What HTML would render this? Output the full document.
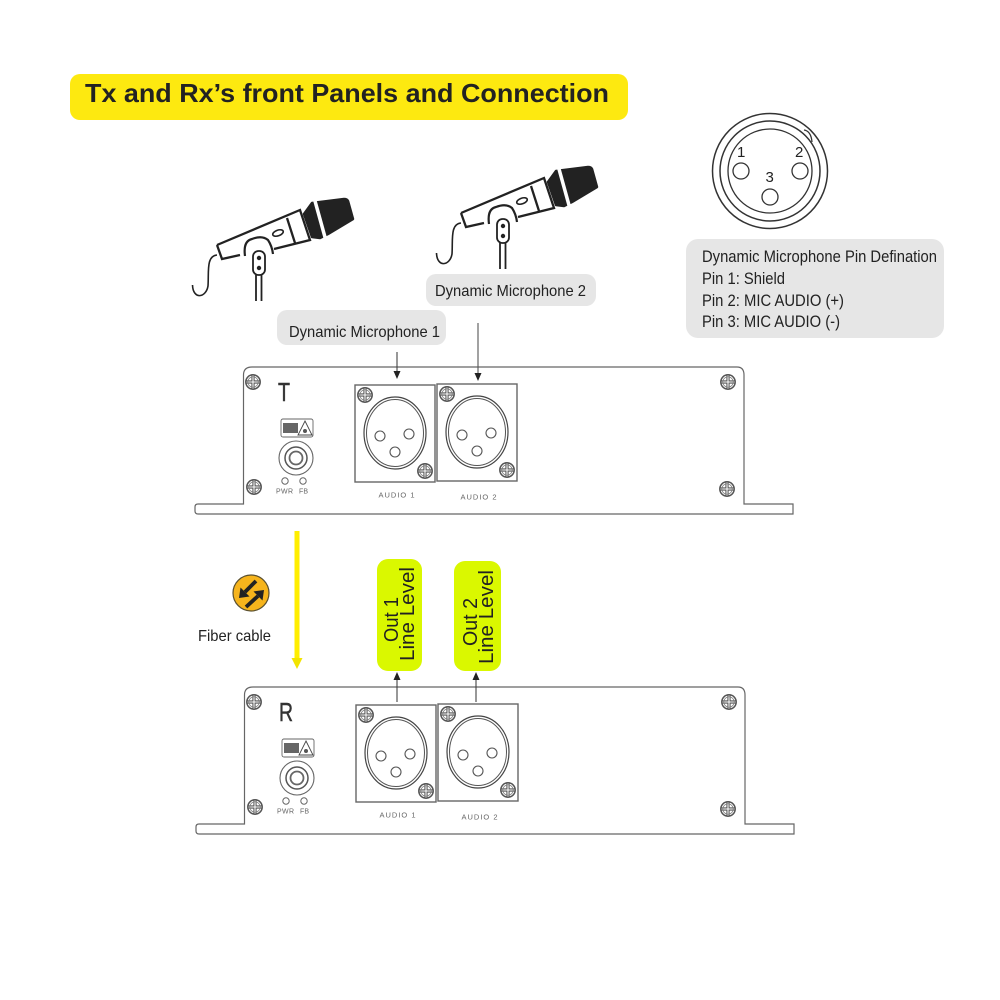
<!DOCTYPE html>
<html><head><meta charset="utf-8"><style>
html,body{margin:0;padding:0;background:#fff}
svg{display:block}
text{font-family:"Liberation Sans",sans-serif}
</style></head><body>
<svg xmlns="http://www.w3.org/2000/svg" width="1000" height="1000" viewBox="0 0 1000 1000">
<defs>
<g id="screw"><circle r="7.200" fill="#fff" stroke="#555" stroke-width="1.500"/><path d="M-6.500 0H6.500M0 -6.500V6.500" stroke="#555" stroke-width="3.200"/><path d="M-6.500 0H6.500M0 -6.500V6.500" stroke="#fff" stroke-width="1.100"/><circle r="5.200" fill="none" stroke="#777" stroke-width=".7"/></g>
<g id="xlr">
<rect x="0" y="0" width="80" height="97" fill="#fff" stroke="#666" stroke-width="1.400"/>
<use href="#screw" x="10" y="10"/><use href="#screw" x="70" y="86"/>
<ellipse cx="40" cy="48" rx="31" ry="36" fill="none" stroke="#444" stroke-width="1.200"/>
<ellipse cx="40" cy="48" rx="28.500" ry="33.500" fill="none" stroke="#555" stroke-width="1"/>
<circle cx="25" cy="51" r="5" fill="#fff" stroke="#555" stroke-width="1.100"/>
<circle cx="54" cy="49" r="5" fill="#fff" stroke="#555" stroke-width="1.100"/>
<circle cx="40" cy="67" r="5" fill="#fff" stroke="#555" stroke-width="1.100"/>
</g>
<g id="panel">
<path d="M243.500 504V375Q243.500 367 252 367H737Q744 367 744 375V504H793V514H198Q195 514 195 511V507Q195 504 198 504Z" fill="#fff" stroke="#666" stroke-width="1.200"/>
<use href="#screw" x="253" y="382"/><use href="#screw" x="254" y="487"/><use href="#screw" x="728" y="382"/><use href="#screw" x="727" y="489"/>
<rect x="281" y="419" width="32" height="18" rx="2" fill="#fff" stroke="#666" stroke-width=".9"/>
<rect x="283" y="423" width="15" height="10" fill="#666"/>
<path d="M305 421L312 435H298Z" fill="#fff" stroke="#444" stroke-width=".9"/><circle cx="305" cy="431" r="2" fill="#555"/>
<circle cx="296" cy="458" r="17" fill="#fff" stroke="#666" stroke-width="1.100"/>
<circle cx="296" cy="458" r="11" fill="none" stroke="#555" stroke-width="1.500"/>
<circle cx="296" cy="458" r="6.500" fill="none" stroke="#666" stroke-width="1.800"/>
<circle cx="285" cy="481" r="3.200" fill="#fff" stroke="#666"/>
<circle cx="303" cy="481" r="3.200" fill="#fff" stroke="#666"/>
<text x="276" y="493.500" font-size="7" fill="#666" textLength="17">PWR</text>
<text x="299" y="493.500" font-size="7" fill="#666" textLength="9">FB</text>
<use href="#xlr" x="355" y="385"/><use href="#xlr" x="437" y="384"/>
<text x="378.500" y="497.500" font-size="7.500" fill="#666" textLength="36">AUDIO 1</text>
<text x="460.500" y="499.500" font-size="7.500" fill="#666" textLength="36">AUDIO 2</text>
</g>
<g id="mic">
<path d="M304 214L312 203L344 199Q347 199 348 201L353 219L328 234L320 238L312 237Z" fill="#222" stroke="#222" stroke-width="2.500" stroke-linejoin="round"/>
<path d="M315 201L325.500 239" stroke="#fff" stroke-width="3.500"/>
<path d="M217 245L300 210L310 240L274 249M240 255L222 259L217 245M287 218L295 243" fill="none" stroke="#222" stroke-width="2.300"/>
<path d="M245 256Q243 241 252 239Q262 235 268 240Q272 246 273 254" fill="none" stroke="#222" stroke-width="2.200"/>
<ellipse cx="278" cy="233" rx="5.500" ry="2.800" transform="rotate(-20 278 233)" fill="none" stroke="#222" stroke-width="1.600"/>
<rect x="253" y="251" width="12" height="24" rx="5.500" fill="#fff" stroke="#222" stroke-width="1.800"/>
<circle cx="259" cy="258" r="2.200" fill="#222"/><circle cx="259" cy="268" r="2.200" fill="#222"/>
<path d="M256 275V301M261.500 275V301" stroke="#222" stroke-width="1.800" fill="none"/>
<path d="M217 255C206 256 209 272 208 286C206 298 193 300 192.500 285" fill="none" stroke="#222" stroke-width="1.600"/>
</g>
</defs>

<rect x="70" y="74" width="558" height="46" rx="10" fill="#fde910"/>
<text x="85" y="102" font-size="26" font-weight="bold" fill="#222" textLength="524" lengthAdjust="spacingAndGlyphs">Tx and Rx’s front Panels and Connection</text>

<use href="#mic"/>
<use href="#mic" x="244" y="-32"/>

<rect x="426" y="274" width="170" height="32" rx="10" fill="#e6e6e6"/>
<text x="435" y="296" font-size="16" fill="#222" textLength="151" lengthAdjust="spacingAndGlyphs">Dynamic Microphone 2</text>
<rect x="277" y="310" width="169" height="35" rx="10" fill="#e6e6e6"/>
<text x="289" y="337" font-size="16" fill="#222" textLength="151" lengthAdjust="spacingAndGlyphs">Dynamic Microphone 1</text>

<circle cx="770" cy="171" r="57.500" fill="#fff" stroke="#333" stroke-width="1.500"/>
<circle cx="770" cy="171" r="50" fill="none" stroke="#333" stroke-width="1.500"/>
<circle cx="770" cy="171" r="42" fill="none" stroke="#333" stroke-width="1.300"/>
<path d="M804 130Q811 131 812 142" fill="none" stroke="#333" stroke-width="1.300"/>
<circle cx="741" cy="171" r="8" fill="#fff" stroke="#333" stroke-width="1.300"/>
<circle cx="800" cy="171" r="8" fill="#fff" stroke="#333" stroke-width="1.300"/>
<circle cx="770" cy="197" r="8" fill="#fff" stroke="#333" stroke-width="1.300"/>
<text x="737" y="157" font-size="15" fill="#222">1</text>
<text x="795" y="157" font-size="15" fill="#222">2</text>
<text x="765.500" y="182" font-size="15" fill="#222">3</text>

<rect x="686" y="239" width="258" height="99" rx="12" fill="#e6e6e6"/>
<g font-size="16.500" fill="#222">
<text x="702" y="262" textLength="235" lengthAdjust="spacingAndGlyphs">Dynamic Microphone Pin Defination</text>
<text x="702" y="284" textLength="83" lengthAdjust="spacingAndGlyphs">Pin 1: Shield</text>
<text x="702" y="306" textLength="142" lengthAdjust="spacingAndGlyphs">Pin 2: MIC AUDIO (+)</text>
<text x="702" y="327" textLength="138" lengthAdjust="spacingAndGlyphs">Pin 3: MIC AUDIO (-)</text>
</g>

<use href="#panel"/>
<text x="278" y="401" font-size="26" fill="#333" stroke="#333" stroke-width=".5" textLength="12" lengthAdjust="spacingAndGlyphs">T</text>
<path d="M397 352V372" stroke="#444" stroke-width="1.100"/><path d="M393.500 371H400.500L397 379Z" fill="#222"/>
<path d="M478 323V374" stroke="#555" stroke-width="1.100"/><path d="M474.500 373H481.500L478 381Z" fill="#222"/>

<path d="M297 531V660" stroke="#ffee00" stroke-width="5"/>
<path d="M291.500 658H302.500L297 669Z" fill="#f2e400"/>

<circle cx="251" cy="593" r="18" fill="#f6b41c" stroke="#5a5030" stroke-width="1.200"/>
<path d="M256 581L245 592" stroke="#222" stroke-width="3.800"/>
<path d="M239 598L240.500 587.500L249.500 596.500Z" fill="#222"/>
<path d="M246 607L258 596" stroke="#222" stroke-width="3.800"/>
<path d="M264 590L253.500 591.500L262.500 600.500Z" fill="#222"/>
<text x="198" y="641" font-size="16" fill="#222" textLength="73" lengthAdjust="spacingAndGlyphs">Fiber cable</text>

<rect x="377" y="559" width="45" height="112" rx="11" fill="#daf800"/>
<rect x="454" y="561" width="47" height="110" rx="11" fill="#daf800"/>
<g font-size="20" fill="#222">
<text transform="translate(398 642) rotate(-90)" textLength="45" lengthAdjust="spacingAndGlyphs">Out 1</text>
<text transform="translate(414 661) rotate(-90)" textLength="94" lengthAdjust="spacingAndGlyphs">Line Level</text>
<text transform="translate(477 646) rotate(-90)" textLength="48" lengthAdjust="spacingAndGlyphs">Out 2</text>
<text transform="translate(493 664) rotate(-90)" textLength="94" lengthAdjust="spacingAndGlyphs">Line Level</text>
</g>

<use href="#panel" x="1" y="320"/>
<text x="279" y="721" font-size="26" fill="#333" stroke="#333" stroke-width=".5" textLength="14" lengthAdjust="spacingAndGlyphs">R</text>
<path d="M397 680V702" stroke="#444" stroke-width="1.100"/><path d="M393.500 680H400.500L397 672Z" fill="#222"/>
<path d="M476 680V702" stroke="#444" stroke-width="1.100"/><path d="M472.500 680H479.500L476 672Z" fill="#222"/>
</svg>
</body></html>
